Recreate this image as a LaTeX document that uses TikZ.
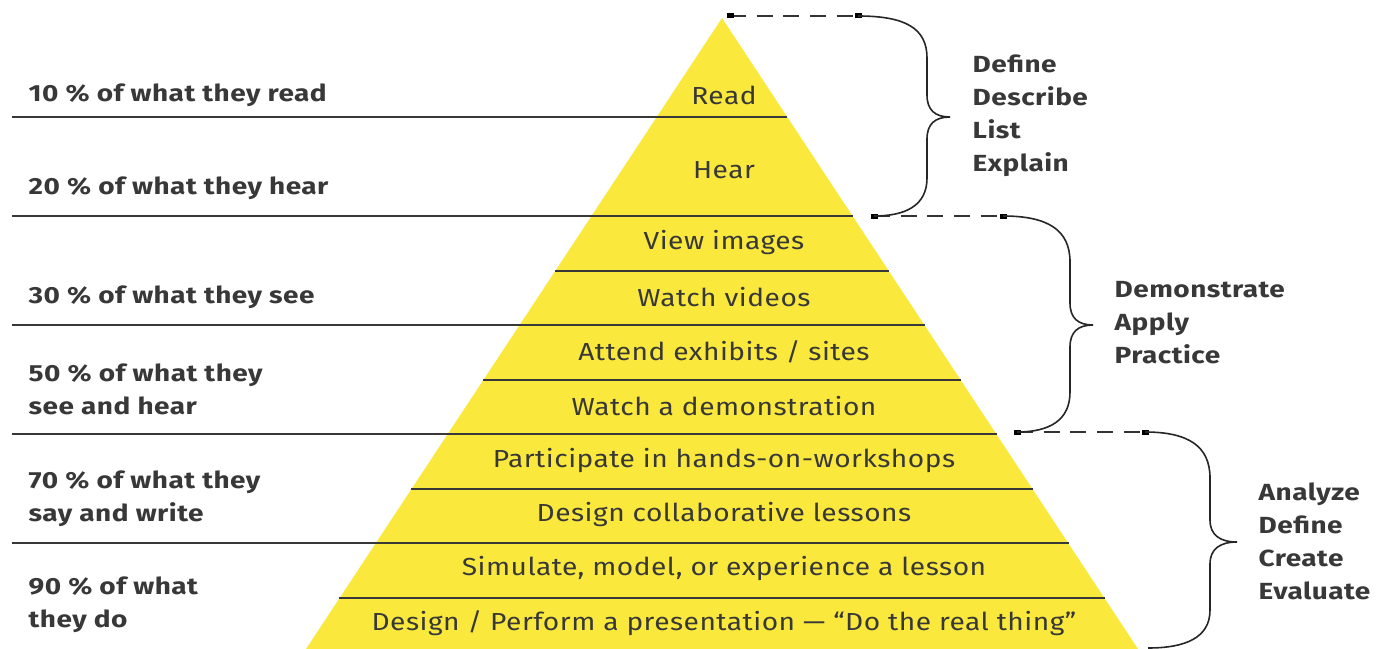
\documentclass[tikz,border=0pt]{standalone}
\usepackage{fontspec}
\setmainfont{Fira Sans}
\newfontfamily\layerfont[FakeStretch=1.14, LetterSpace=2]{Fira Sans}
\newfontfamily\labelfont[FakeStretch=1.2, LetterSpace=2]{Fira Sans}
\usetikzlibrary{positioning,calc}
\definecolor{pyryellow}{HTML}{FAE93C}
\definecolor{rulegray}{HTML}{383838}

\begin{document}
\begin{tikzpicture}[x=0.75pt,y=-0.75pt,
    layer/.style={font=\layerfont\fontsize{18.5}{20}\selectfont, text=rulegray},
    share/.style={font=\labelfont\fontsize{17.5}{24.75}\selectfont\bfseries, text=rulegray, anchor=west, align=left},
    verbs/.style={font=\labelfont\fontsize{17.5}{24.75}\selectfont\bfseries, text=rulegray, anchor=west, align=left},
    rule/.style={draw=rulegray, line width=2.1pt},
    guide/.style={draw=black!80, line width=1.6pt, dash pattern=on 12pt off 8pt},
    curly/.style={draw=black!85, line width=1.2pt}]
    % page frame
    \useasboundingbox (0,0) rectangle (1381,649);

    % the pyramid
    \coordinate (apex) at (722,18);
    \coordinate (bl) at (306,649);
    \coordinate (br) at (1138,649);
    \fill[pyryellow] (apex) -- (bl) -- (br) -- cycle;

    % long rules (reaching the labels on the left)
    \foreach \y in {117,216,325,434,543}{
        \pgfmathsetmacro{\xr}{722+0.66*(\y-18)}
        \draw[rule] (12,\y) -- (\xr,\y);
    }
    % short rules (inside the pyramid)
    \foreach \y in {271,380,489,598}{
        \pgfmathsetmacro{\xl}{722-0.66*(\y-18)}
        \pgfmathsetmacro{\xr}{722+0.66*(\y-18)}
        \draw[rule] (\xl,\y) -- (\xr,\y);
    }

    % layer texts
    \node (read)  at (724,95)  [layer] {Read};
    \node (hear)  at (724,170) [layer] {Hear};
    \node (view)  at (724,243) [layer] {View images};
    \node (video) at (724,297) [layer] {Watch videos};
    \node (sites) at (724,352) [layer] {Attend exhibits / sites};
    \node (demo)  at (724,406) [layer] {Watch a demonstration};
    \node (work)  at (724,461) [layer] {Participate in hands-on-workshops};
    \node (collab) at (724,515) [layer] {Design collaborative lessons};
    \node (simul) at (724,569) [layer] {Simulate, model, or experience a lesson};
    \node (real)  at (724,623) [layer] {Design / Perform a presentation — “Do the real thing”};

    % percentages on the left
    \node (p10) at (24,95)    [share] {10 \% of what they read};
    \node (p20) at (24,188)   [share] {20 \% of what they hear};
    \node (p30) at (24,297)   [share] {30 \% of what they see};
    \node (p50) at (24,389.5) [share] {50 \% of what they\\see and hear};
    \node (p70) at (24,498.5) [share] {70 \% of what they\\say and write};
    \node (p90) at (24,605)   [share] {90 \% of what\\they do};

    % dashed guides
    \coordinate (g1a) at (730,16);   \coordinate (g1b) at (858,16);
    \coordinate (g2a) at (874,216);  \coordinate (g2b) at (1003,216);
    \coordinate (g3a) at (1017,432); \coordinate (g3b) at (1145,432);
    \draw[guide] (g1a) -- (g1b);
    \draw[guide] (g2a) -- (g2b);
    \draw[guide] (g3a) -- (g3b);
    \foreach \g in {g1a,g1b,g2a,g2b,g3a,g3b}
        \fill[black] ($(\g)+(-3.5,-2.5)$) rectangle ($(\g)+(3.5,2.5)$);

    % braces
    \draw[curly] (g1b) .. controls (905,16) and (927,28) .. (927,58) -- (927,95)
        .. controls (927,110) and (935,117) .. (950,117)
        .. controls (935,117) and (927,124) .. (927,139) -- (927,178)
        .. controls (927,206) and (905,216) .. (g2a);
    \draw[curly] (g2b) .. controls (1048,216) and (1070,230) .. (1070,262) -- (1070,303)
        .. controls (1070,318) and (1078,325) .. (1093,325)
        .. controls (1078,325) and (1070,332) .. (1070,347) -- (1070,392)
        .. controls (1070,420) and (1050,432) .. (g3a);
    \coordinate (g3c) at (1148,648);
    \draw[curly] (g3b) .. controls (1188,432) and (1210,446) .. (1210,478) -- (1210,520)
        .. controls (1210,535) and (1220,542) .. (1237,542)
        .. controls (1220,542) and (1210,549) .. (1210,564) -- (1210,610)
        .. controls (1210,638) and (1185,648) .. (g3c);

    % verbs on the right
    \node (v1) at (968,116)   [verbs] {Define\\Describe\\List\\Explain};
    \node (v2) at (1110,322.5) [verbs] {Demonstrate\\Apply\\Practice};
    \node (v3) at (1254,541)  [verbs] {Analyze\\Define\\Create\\Evaluate};
\end{tikzpicture}
\end{document}
